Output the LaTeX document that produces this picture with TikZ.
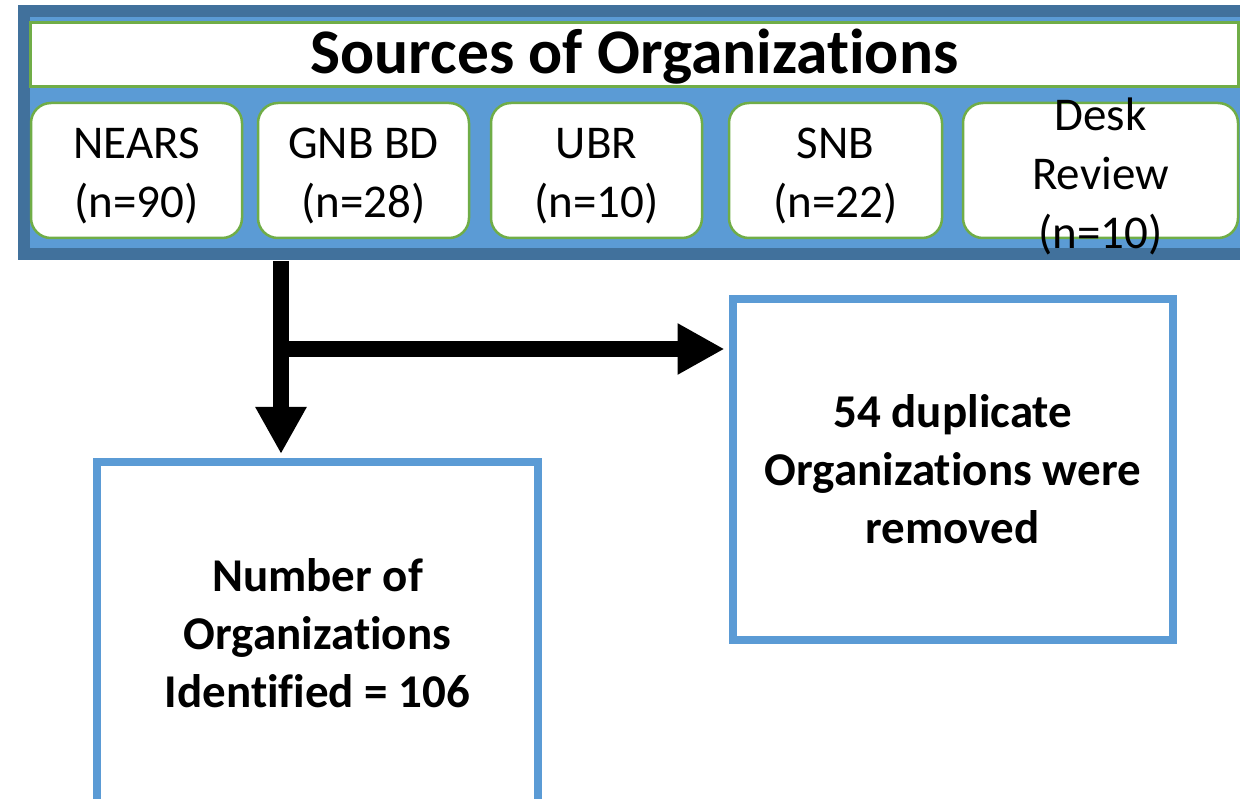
\documentclass[tikz,border=0pt]{standalone}
\usepackage{fontspec}
\setmainfont{Carlito}[Ligatures=NoCommon]
\usetikzlibrary{arrows.meta}
\definecolor{framedark}{HTML}{41719C}
\definecolor{framelight}{HTML}{5B9BD5}
\definecolor{boxgreen}{HTML}{70AD47}
\definecolor{boxblue}{HTML}{5B9BD5}
\tikzset{
  srcbox/.style={draw=boxgreen, line width=2.5pt, fill=white, rounded corners=20pt,
    minimum height=135pt, inner sep=0pt},
  srctext/.style={align=center, inner sep=0pt, yshift=-6pt,
    font=\fontsize{47}{59}\selectfont},
  titlebox/.style={draw=boxgreen, line width=2.5pt, fill=white, minimum width=1208pt,
    minimum height=64pt, inner sep=0pt},
  titletext/.style={inner sep=0pt, yshift=-2.5pt, font=\fontsize{63.5}{70}\selectfont\bfseries},
  resbox/.style={draw=boxblue, line width=8pt, fill=white, inner sep=0pt, align=center,
    font=\fontsize{47}{58}\selectfont\bfseries},
  bigarrow/.style={line width=16pt, -{Triangle[length=47pt,width=48pt]}}
}
\begin{document}
\begin{tikzpicture}[x=1pt,y=-1pt]
\clip (0,0) rectangle (1240,799);
\fill[white] (0,0) rectangle (1240,799);
% frame
\fill[framedark] (18,5) rectangle (1240,260);
\fill[framelight] (30,17) rectangle (1240,248);
\node[titlebox, label={[titletext]center:Sources of Organizations}] (title) at (634.5,54.5) {};
\node[srcbox, minimum width=211pt, label={[srctext]center:NEARS\\(n=90)}] (nears) at (136.5,170.5) {};
\node[srcbox, minimum width=211pt, label={[srctext]center:GNB BD\\(n=28)}] (gnb) at (363.5,170.5) {};
\node[srcbox, minimum width=211pt, label={[srctext]center:UBR\\(n=10)}] (ubr) at (596.5,170.5) {};
\node[srcbox, minimum width=213pt, label={[srctext]center:SNB\\(n=22)}] (snb) at (835.5,170.5) {};
\node[srcbox, minimum width=275pt, label={[srctext]center:Desk\\Review\\(n=10)}] (desk) at (1100.5,170.5) {};
% result boxes
\node[resbox, minimum width=441pt, minimum height=342pt] (ident) at (317.5,633) {Number of\\Organizations\\Identified = 106};
\node[resbox, minimum width=440.5pt, minimum height=341pt] (dup) at (952.75,469.5) {54 duplicate\\Organizations were\\removed};
% connectors
\coordinate (start) at (281,261);
\coordinate (branch) at (281,349);
\draw[bigarrow, shorten >=4pt] (start) -- (start |- ident.north);
\draw[bigarrow, shorten >=4pt] ([xshift=-8pt]branch) -- (dup.west |- branch);
\end{tikzpicture}
\end{document}
